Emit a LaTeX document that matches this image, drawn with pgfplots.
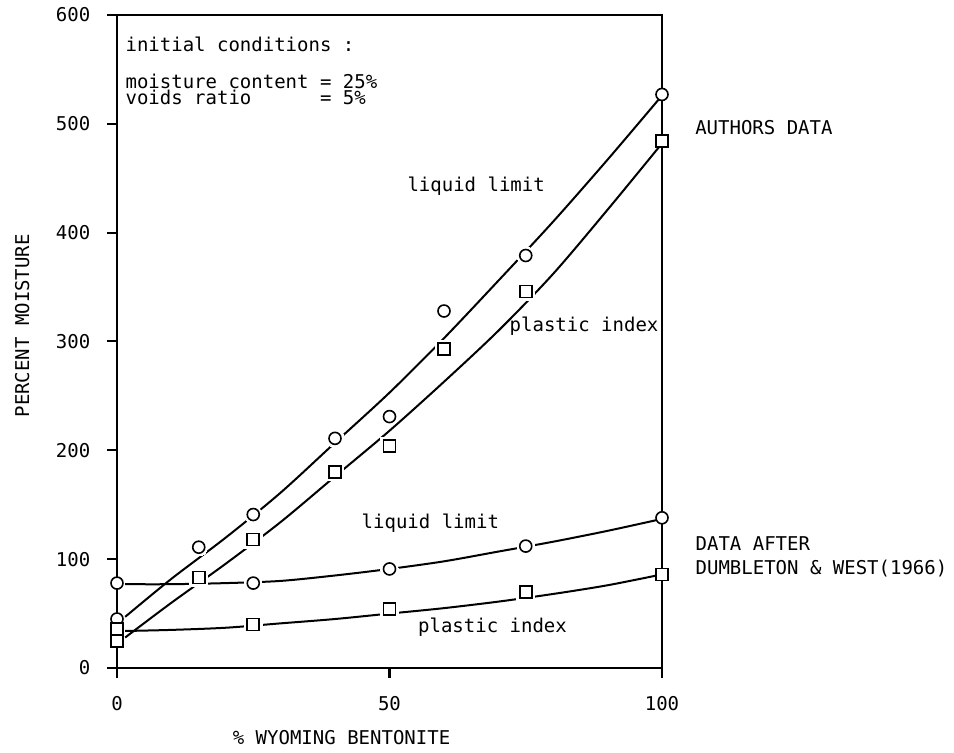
\documentclass[border=0pt]{standalone}
\usepackage{fontspec}
\setmainfont{DejaVu Sans Mono}
\usepackage{pgfplots}
\pgfplotsset{compat=1.18}
\begin{document}
\fontsize{9.5}{11}\selectfont
\begin{tikzpicture}
\useasboundingbox (-58.5pt,-42.5pt) rectangle (418.5pt,334pt);
\begin{axis}[
  at={(0,0)}, anchor=south west,
  scale only axis, width=272.5pt, height=326.5pt,
  xmin=0, xmax=100, ymin=0, ymax=600,
  xtick={0,50,100}, ytick={0,100,...,600},
  tick pos=left, tick align=outside, major tick length=5pt,
  axis line style={line width=1pt},
  tick style={line width=1pt, black},
  /pgf/number format/assume math mode=true,
  yticklabel style={xshift=-5pt},
  xticklabel style={yshift=-6pt},
  clip=false,
  xlabel={\% WYOMING BENTONITE},
  ylabel={PERCENT MOISTURE},
  xlabel style={at={(axis description cs:0.412,-0.107)}, anchor=center, inner sep=0pt},
  ylabel style={at={(axis description cs:-0.174,0.524)}, anchor=center, inner sep=0pt},
]
% fitted curves
\addplot[smooth, line width=1pt] coordinates {(1.5,47) (10,82) (20,120) (30,161) (40,207) (50,253) (60,303) (70,356) (80,410) (90,467) (100,526)};
\addplot[smooth, line width=1pt] coordinates {(1.5,28) (10,60) (20,96) (30,134) (40,176) (50,218) (60,263) (70,310) (80,362) (90,421) (100,482)};
\addplot[smooth, line width=1pt] coordinates {(1.5,77) (10,77) (20,78) (30,80) (40,85) (50,91) (60,98) (70,107) (80,116) (90,126) (100,137)};
\addplot[smooth, line width=1pt] coordinates {(1.5,34) (10,35) (20,37) (30,41) (40,45) (50,50) (60,55) (70,61) (80,68) (90,76) (100,86)};
% white halos for gaps
\addplot[only marks, white, mark=*, mark size=4.4pt, mark options={fill=white, draw=white, line width=0pt}] coordinates {(15,111) (25,141) (40,211) (50,231) (60,328) (75,379) (25,78) (50,91) (75,112)};
\addplot[only marks, white, mark=square*, mark size=4.4pt, mark options={fill=white, draw=white, line width=0pt}] coordinates {(15,83) (25,118) (40,180) (50,204) (60,293) (75,346) (25,40) (50,54) (75,70)};
% authors data
\addplot[only marks, black, mark=*, mark size=3pt, mark options={fill=white, draw=black, line width=0.8pt}] coordinates {(0,45) (15,111) (25,141) (40,211) (50,231) (60,328) (75,379) (100,527)};
\addplot[only marks, black, mark=square*, mark size=3pt, mark options={fill=white, draw=black, line width=0.8pt}] coordinates {(0,25) (15,83) (25,118) (40,180) (50,204) (60,293) (75,346) (100,484)};
% Dumbleton & West
\addplot[only marks, black, mark=*, mark size=3pt, mark options={fill=white, draw=black, line width=0.8pt}] coordinates {(0,78) (25,78) (50,91) (75,112) (100,138)};
\addplot[only marks, black, mark=square*, mark size=3pt, mark options={fill=white, draw=black, line width=0.8pt}] coordinates {(0,36) (25,40) (50,54) (75,70) (100,86)};
% annotations
\node[anchor=west, inner sep=0pt] at (axis cs:1.5,573) {initial conditions :};
\node[anchor=west, inner sep=0pt] at (axis cs:1.5,539) {moisture content = 25\%};
\node[anchor=west, inner sep=0pt] at (axis cs:1.5,524) {voids ratio\hphantom{00000} = 5\%};
\node[inner sep=0pt] at (axis cs:65.9,443) {liquid limit};
\node[inner sep=0pt] at (axis cs:85.7,314) {plastic index};
\node[inner sep=0pt] at (axis cs:57.5,133) {liquid limit};
\node[inner sep=0pt] at (axis cs:68.9,37.6) {plastic index};
\node[inner sep=0pt] at (axis cs:118.7,497) {AUTHORS DATA};
\node[anchor=west, align=left, inner sep=0pt, font=\fontsize{9.5}{12}\selectfont] at (axis cs:106.1,101.8) {DATA AFTER\\DUMBLETON \& WEST(1966)};
\end{axis}
\end{tikzpicture}
\end{document}
